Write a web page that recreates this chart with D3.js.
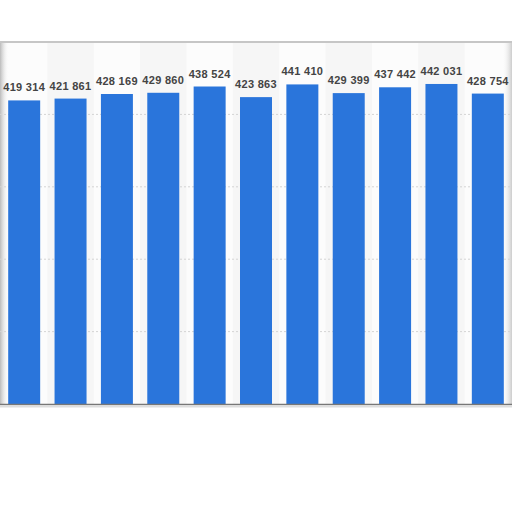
<!DOCTYPE html>
<html>
<head>
<meta charset="utf-8">
<script src="https://cdn.jsdelivr.net/npm/d3@7"></script>
<style>
  body { margin: 0; background: #fff; }
  #chart { width: 512px; height: 512px; }
</style>
</head>
<body>
<div id="chart"></div>
<script>
const categories = ["1", "2", "3", "4", "5", "6", "7", "8", "9", "10", "11"];
const values = [419314, 421861, 428169, 429860, 438524, 423863, 441410, 429399, 437442, 442031, 428754];
const gridTicks = [0, 100000, 200000, 300000, 400000, 500000];

const width = 512, height = 512;
const plotTop = 42, plotBottom = 404, plotLeft = 1, plotRight = 511;

const svg = d3.select("#chart")
  .append("svg")
  .attr("width", width)
  .attr("height", height);

const x = d3.scaleBand()
  .domain(categories)
  .range([plotLeft, plotRight])
  .paddingInner(0.31)
  .paddingOuter(0.155);

const y = d3.scaleLinear()
  .domain([0, 500000])
  .range([plotBottom, plotTop]);

const defs = svg.append("defs");
const lg = defs.append("linearGradient").attr("id", "lshade");
lg.append("stop").attr("offset", "0%").attr("stop-color", "#bbb");
lg.append("stop").attr("offset", "100%").attr("stop-color", "#fff").attr("stop-opacity", 0);
const rg = defs.append("linearGradient").attr("id", "rshade");
rg.append("stop").attr("offset", "0%").attr("stop-color", "#fff").attr("stop-opacity", 0);
rg.append("stop").attr("offset", "100%").attr("stop-color", "#ccc");

// plot background
svg.append("rect")
  .attr("x", 0).attr("y", plotTop)
  .attr("width", width).attr("height", plotBottom - plotTop)
  .attr("fill", "#fcfcfc");

// alternating columns
const step = x.step();
svg.selectAll(".col")
  .data(categories.filter((d, i) => i % 2 == 1))
  .join("rect")
  .attr("class", "col")
  .attr("x", d => x(d) + x.bandwidth() / 2 - step / 2)
  .attr("y", plotTop)
  .attr("width", step)
  .attr("height", plotBottom - plotTop)
  .attr("fill", "#f6f6f6");

// edge shading
svg.append("rect").attr("x", 0).attr("y", plotTop).attr("width", 9).attr("height", plotBottom - plotTop).attr("fill", "url(#lshade)");
svg.append("rect").attr("x", 502).attr("y", plotTop).attr("width", 10).attr("height", plotBottom - plotTop).attr("fill", "url(#rshade)");

// gridlines
svg.selectAll(".grid")
  .data(gridTicks.slice(1, -1))
  .join("line")
  .attr("class", "grid")
  .attr("x1", 0).attr("x2", width)
  .attr("y1", d => y(d)).attr("y2", d => y(d))
  .attr("stroke", "#d4d4d4")
  .attr("stroke-dasharray", "2,2");

// top border
svg.append("line")
  .attr("x1", 0).attr("x2", width)
  .attr("y1", plotTop).attr("y2", plotTop)
  .attr("stroke", "#c6c6c6")
  .attr("stroke-width", 2);

// bars
svg.selectAll(".bar")
  .data(values)
  .join("rect")
  .attr("class", "bar")
  .attr("x", (d, i) => x(categories[i]))
  .attr("y", d => y(d))
  .attr("width", x.bandwidth())
  .attr("height", d => y(0) - y(d))
  .attr("fill", "#2a75db");

// value labels
const fmt = d3.formatLocale({ thousands: " ", grouping: [3], decimal: ".", currency: ["", ""] }).format(",");
svg.selectAll(".label")
  .data(values)
  .join("text")
  .attr("class", "label")
  .attr("x", (d, i) => x(categories[i]) + x.bandwidth() / 2)
  .attr("y", d => y(d) - 9)
  .attr("text-anchor", "middle")
  .attr("font-family", "Liberation Sans, Arial, sans-serif")
  .attr("font-weight", "bold")
  .attr("font-size", 11)
  .attr("letter-spacing", 0.3)
  .attr("fill", "#444")
  .text(d => fmt(d));

// axis line
svg.append("line")
  .attr("x1", 0).attr("x2", width)
  .attr("y1", plotBottom + 0.5).attr("y2", plotBottom + 0.5)
  .attr("stroke", "#777")
  .attr("stroke-width", 1.5);
svg.append("line")
  .attr("x1", 0).attr("x2", width)
  .attr("y1", plotBottom + 2.5).attr("y2", plotBottom + 2.5)
  .attr("stroke", "#ddd")
  .attr("stroke-width", 2);
</script>
</body>
</html>
